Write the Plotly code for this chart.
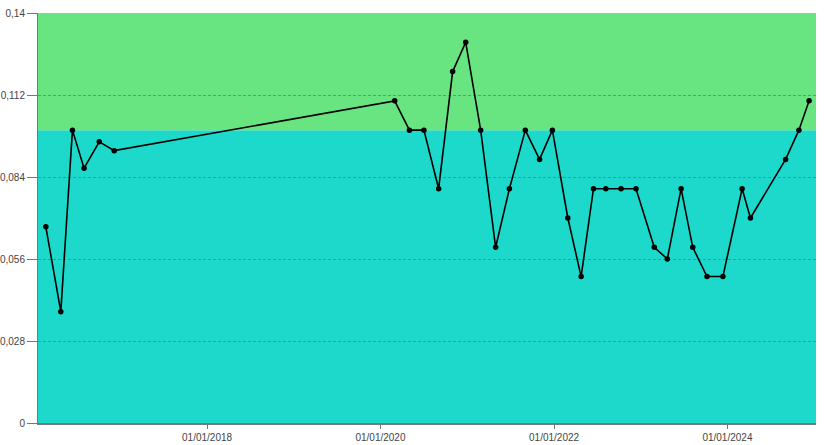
import plotly.graph_objects as go

dates = ["2016-02-22", "2016-04-25", "2016-06-13", "2016-08-01", "2016-10-04", "2016-12-06",
         "2020-03-01", "2020-05-02", "2020-07-02", "2020-09-02", "2020-10-31", "2020-12-25",
         "2021-02-26", "2021-04-30", "2021-06-27", "2021-09-02", "2021-11-01", "2021-12-25",
         "2022-02-28", "2022-04-25", "2022-06-16", "2022-08-07", "2022-10-10", "2022-12-12",
         "2023-02-27", "2023-04-23", "2023-06-20", "2023-08-08", "2023-10-07", "2023-12-13",
         "2024-03-03", "2024-04-07", "2024-09-02", "2024-10-28", "2024-12-10"]
values = [0.067, 0.038, 0.1, 0.087, 0.096, 0.093,
          0.11, 0.1, 0.1, 0.08, 0.12, 0.13,
          0.1, 0.06, 0.08, 0.1, 0.09, 0.1,
          0.07, 0.05, 0.08, 0.08, 0.08, 0.08,
          0.06, 0.056, 0.08, 0.06, 0.05, 0.05,
          0.08, 0.07, 0.09, 0.1, 0.11]

y_ticks = [0, 0.028, 0.056, 0.084, 0.112, 0.14]
y_labels = ["0", "0,028", "0,056", "0,084", "0,112", "0,14"]
x_ticks = ["2018-01-01", "2020-01-01", "2022-01-01", "2024-01-01"]
x_labels = ["01/01/2018", "01/01/2020", "01/01/2022", "01/01/2024"]

threshold = 0.1
y_max = 0.14
x_range = ["2016-01-20", "2025-01-08"]

fig = go.Figure()
fig.add_trace(go.Scatter(
    x=dates, y=values, mode="lines+markers",
    line=dict(color="black", width=1.6),
    marker=dict(color="black", size=5.5),
    showlegend=False,
))

fig.add_shape(type="rect", xref="paper", yref="y", x0=0, x1=1, y0=0, y1=threshold,
              fillcolor="#1DD9CC", line_width=0, layer="below")
fig.add_shape(type="rect", xref="paper", yref="y", x0=0, x1=1, y0=threshold, y1=y_max,
              fillcolor="#68E480", line_width=0, layer="below")

font = dict(family="Liberation Sans Narrow, Liberation Sans, Arial", size=10, color="#444444")

fig.update_layout(
    width=837, height=445,
    margin=dict(l=38, r=21, t=13, b=22, autoexpand=False),
    paper_bgcolor="white", plot_bgcolor="white",
    font=font,
    xaxis=dict(type="date", range=x_range, tickvals=x_ticks, ticktext=x_labels,
               automargin=False,
               showgrid=False, zeroline=False, showline=True, linecolor="#777777", linewidth=1.5,
               ticks="outside", ticklen=4, tickcolor="#777777", tickfont=font),
    yaxis=dict(range=[0, y_max], tickvals=y_ticks, ticktext=y_labels,
               automargin=False,
               showgrid=True, gridcolor="rgba(110,110,110,0.7)", griddash="3px,2px", gridwidth=1,
               zeroline=False, showline=True, linecolor="#777777", linewidth=1,
               ticks="outside", ticklen=10, tickcolor="#777777", tickfont=font),
)

fig.write_html("out.html", config={"displayModeBar": False},
               post_script="document.body.style.margin='0';document.body.style.overflow='hidden';")
